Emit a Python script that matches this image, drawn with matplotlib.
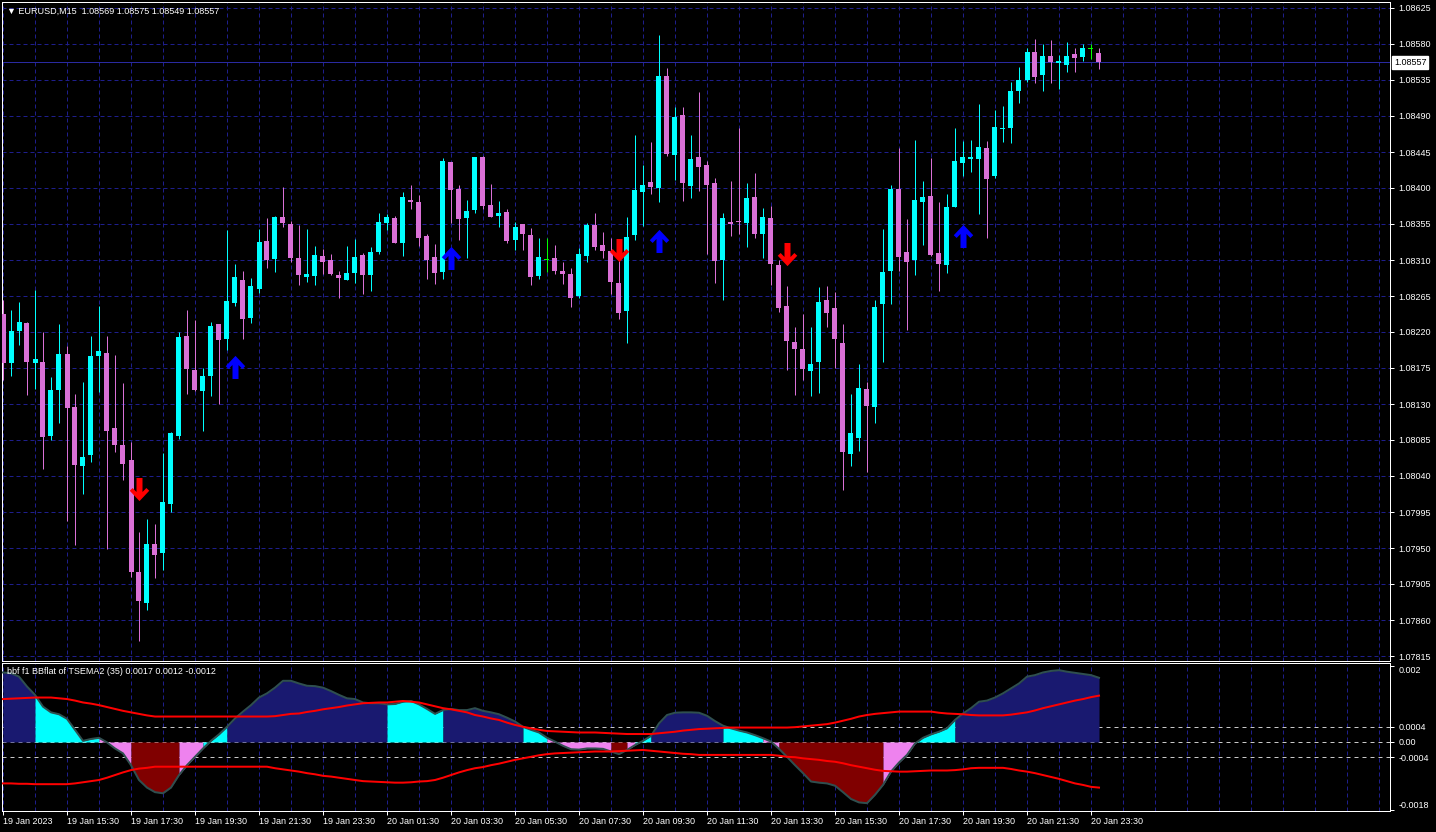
import matplotlib
matplotlib.use("Agg")
import matplotlib.pyplot as plt
import numpy as np
from matplotlib.path import Path
from matplotlib.ticker import MultipleLocator

# EURUSD M15, bars from 19 Jan 2023 13:30 to 20 Jan 2023 23:45
opens = [
    1.08242, 1.08181, 1.08221, 1.08231, 1.08181, 1.08182, 1.08090, 1.08147, 1.08192, 1.08126,
    1.08052, 1.08066, 1.08190, 1.08194, 1.08100, 1.08079, 1.08060, 1.07920, 1.07881, 1.07955,
    1.07944, 1.08005, 1.08090, 1.08215, 1.08172, 1.08146, 1.08165, 1.08230, 1.08211, 1.08256,
    1.08285, 1.08237, 1.08274, 1.08334, 1.08311, 1.08364, 1.08355, 1.08312, 1.08289, 1.08290,
    1.08315, 1.08310, 1.08291, 1.08285, 1.08294, 1.08316, 1.08291, 1.08320, 1.08356, 1.08362,
    1.08331, 1.08385, 1.08382, 1.08340, 1.08314, 1.08295, 1.08432, 1.08399, 1.08362, 1.08372,
    1.08439, 1.08379, 1.08365, 1.08370, 1.08335, 1.08355, 1.08341, 1.08290, 1.08310, 1.08312,
    1.08296, 1.08292, 1.08265, 1.08315, 1.08354, 1.08329, 1.08321, 1.08281, 1.08246, 1.08341,
    1.08395, 1.08407, 1.08400, 1.08540, 1.08441, 1.08491, 1.08402, 1.08439, 1.08429, 1.08406,
    1.08310, 1.08357, 1.08359, 1.08356, 1.08389, 1.08342, 1.08362, 1.08304, 1.08252, 1.08207,
    1.08199, 1.08171, 1.08182, 1.08260, 1.08250, 1.08206, 1.08067, 1.08087, 1.08149, 1.08126,
    1.08255, 1.08296, 1.08399, 1.08320, 1.08310, 1.08382, 1.08390, 1.08319, 1.08304, 1.08376,
    1.08431, 1.08436, 1.08436, 1.08450, 1.08415, 1.08474, 1.08475, 1.08521, 1.08535, 1.08570,
    1.08541, 1.08565, 1.08556, 1.08554, 1.08567, 1.08564, 1.08574, 1.08569,
]
highs = [
    1.08260, 1.08247, 1.08257, 1.08232, 1.08272, 1.08220, 1.08164, 1.08230, 1.08202, 1.08142,
    1.08157, 1.08215, 1.08252, 1.08215, 1.08191, 1.08156, 1.08082, 1.07970, 1.07986, 1.07980,
    1.08069, 1.08095, 1.08220, 1.08247, 1.08235, 1.08175, 1.08232, 1.08230, 1.08347, 1.08305,
    1.08296, 1.08287, 1.08349, 1.08362, 1.08365, 1.08401, 1.08359, 1.08354, 1.08349, 1.08327,
    1.08324, 1.08317, 1.08296, 1.08327, 1.08336, 1.08319, 1.08326, 1.08369, 1.08367, 1.08365,
    1.08395, 1.08404, 1.08391, 1.08342, 1.08330, 1.08437, 1.08432, 1.08404, 1.08385, 1.08439,
    1.08440, 1.08405, 1.08384, 1.08374, 1.08357, 1.08355, 1.08350, 1.08337, 1.08337, 1.08329,
    1.08307, 1.08300, 1.08325, 1.08356, 1.08369, 1.08345, 1.08337, 1.08309, 1.08364, 1.08466,
    1.08429, 1.08457, 1.08591, 1.08550, 1.08501, 1.08501, 1.08466, 1.08520, 1.08434, 1.08412,
    1.08369, 1.08409, 1.08475, 1.08406, 1.08419, 1.08375, 1.08377, 1.08310, 1.08277, 1.08226,
    1.08242, 1.08226, 1.08276, 1.08277, 1.08270, 1.08230, 1.08142, 1.08180, 1.08157, 1.08260,
    1.08349, 1.08404, 1.08450, 1.08361, 1.08460, 1.08409, 1.08437, 1.08382, 1.08392, 1.08475,
    1.08459, 1.08460, 1.08505, 1.08459, 1.08497, 1.08502, 1.08532, 1.08551, 1.08575, 1.08586,
    1.08580, 1.08585, 1.08566, 1.08582, 1.08575, 1.08580, 1.08580, 1.08575,
]
lows = [
    1.08160, 1.08165, 1.08204, 1.08141, 1.08149, 1.08049, 1.08085, 1.08106, 1.07984, 1.07954,
    1.08017, 1.08057, 1.08145, 1.07949, 1.08070, 1.08035, 1.07914, 1.07834, 1.07872, 1.07912,
    1.07922, 1.07995, 1.08086, 1.08142, 1.08146, 1.08096, 1.08140, 1.08130, 1.08197, 1.08252,
    1.08211, 1.08231, 1.08269, 1.08300, 1.08295, 1.08351, 1.08307, 1.08279, 1.08282, 1.08279,
    1.08292, 1.08291, 1.08262, 1.08285, 1.08281, 1.08267, 1.08271, 1.08317, 1.08347, 1.08331,
    1.08315, 1.08374, 1.08327, 1.08286, 1.08280, 1.08286, 1.08356, 1.08335, 1.08312, 1.08369,
    1.08374, 1.08364, 1.08351, 1.08331, 1.08322, 1.08322, 1.08279, 1.08286, 1.08295, 1.08292,
    1.08280, 1.08251, 1.08262, 1.08307, 1.08322, 1.08312, 1.08267, 1.08236, 1.08206, 1.08335,
    1.08352, 1.08392, 1.08382, 1.08440, 1.08410, 1.08384, 1.08387, 1.08396, 1.08317, 1.08281,
    1.08260, 1.08340, 1.08342, 1.08326, 1.08337, 1.08312, 1.08279, 1.08245, 1.08172, 1.08141,
    1.08160, 1.08140, 1.08144, 1.08226, 1.08175, 1.08022, 1.08052, 1.08071, 1.08045, 1.08106,
    1.08182, 1.08255, 1.08296, 1.08222, 1.08291, 1.08329, 1.08315, 1.08271, 1.08294, 1.08376,
    1.08415, 1.08420, 1.08367, 1.08337, 1.08412, 1.08457, 1.08456, 1.08506, 1.08532, 1.08531,
    1.08521, 1.08531, 1.08524, 1.08545, 1.08545, 1.08559, 1.08561, 1.08549,
]
closes = [
    1.08181, 1.08221, 1.08232, 1.08182, 1.08186, 1.08089, 1.08147, 1.08192, 1.08125, 1.08054,
    1.08064, 1.08190, 1.08196, 1.08096, 1.08079, 1.08055, 1.07920, 1.07884, 1.07955, 1.07941,
    1.08007, 1.08094, 1.08214, 1.08174, 1.08147, 1.08165, 1.08227, 1.08210, 1.08259, 1.08289,
    1.08236, 1.08277, 1.08332, 1.08310, 1.08364, 1.08356, 1.08312, 1.08291, 1.08292, 1.08316,
    1.08307, 1.08292, 1.08287, 1.08294, 1.08314, 1.08291, 1.08320, 1.08357, 1.08364, 1.08331,
    1.08389, 1.08382, 1.08337, 1.08310, 1.08294, 1.08434, 1.08397, 1.08361, 1.08371, 1.08439,
    1.08377, 1.08364, 1.08369, 1.08334, 1.08351, 1.08342, 1.08289, 1.08314, 1.08310, 1.08296,
    1.08292, 1.08262, 1.08317, 1.08354, 1.08326, 1.08321, 1.08282, 1.08244, 1.08339, 1.08397,
    1.08404, 1.08401, 1.08540, 1.08442, 1.08489, 1.08406, 1.08436, 1.08426, 1.08404, 1.08309,
    1.08362, 1.08355, 1.08357, 1.08387, 1.08342, 1.08364, 1.08305, 1.08250, 1.08209, 1.08199,
    1.08174, 1.08180, 1.08257, 1.08244, 1.08211, 1.08070, 1.08094, 1.08150, 1.08127, 1.08251,
    1.08295, 1.08399, 1.08314, 1.08307, 1.08385, 1.08389, 1.08316, 1.08305, 1.08376, 1.08434,
    1.08439, 1.08439, 1.08451, 1.08411, 1.08476, 1.08475, 1.08521, 1.08535, 1.08570, 1.08539,
    1.08565, 1.08557, 1.08559, 1.08565, 1.08562, 1.08575, 1.08574, 1.08557,
]

# signal arrows: bar index and price
buy_bars = [29, 56, 82, 120]
buy_prices = [1.08177, 1.08314, 1.08335, 1.08341]
sell_bars = [17, 77, 98]
sell_prices = [1.08022, 1.08321, 1.08316]

# indicator window: BBflat of TSEMA2
bbf_value = [
    0.00183, 0.00181, 0.00172, 0.00146, 0.00124, 0.00093, 0.00078, 0.00073, 0.00061, 0.00032,
    0.00003, 0.00008, 0.00011, -0.00001, -0.00017, -0.00030, -0.00061, -0.00100, -0.00120, -0.00132,
    -0.00135, -0.00120, -0.00087, -0.00061, -0.00039, -0.00017, 0.00003, 0.00020, 0.00040, 0.00062,
    0.00080, 0.00097, 0.00117, 0.00128, 0.00143, 0.00161, 0.00161, 0.00154, 0.00148, 0.00147,
    0.00143, 0.00134, 0.00124, 0.00115, 0.00113, 0.00104, 0.00102, 0.00102, 0.00099, 0.00100,
    0.00106, 0.00108, 0.00099, 0.00087, 0.00074, 0.00084, 0.00087, 0.00084, 0.00084, 0.00089,
    0.00082, 0.00078, 0.00073, 0.00064, 0.00054, 0.00040, 0.00032, 0.00025, 0.00011, 0.00001,
    -0.00010, -0.00019, -0.00020, -0.00017, -0.00017, -0.00018, -0.00025, -0.00032, -0.00021, -0.00008,
    0.00003, 0.00016, 0.00049, 0.00071, 0.00077, 0.00078, 0.00078, 0.00077, 0.00069, 0.00055,
    0.00043, 0.00036, 0.00030, 0.00025, 0.00018, 0.00010, 0.00001, -0.00018, -0.00039, -0.00061,
    -0.00082, -0.00104, -0.00107, -0.00109, -0.00115, -0.00132, -0.00150, -0.00159, -0.00161, -0.00139,
    -0.00113, -0.00078, -0.00054, -0.00034, -0.00004, 0.00011, 0.00020, 0.00027, 0.00036, 0.00058,
    0.00075, 0.00089, 0.00106, 0.00109, 0.00117, 0.00128, 0.00141, 0.00154, 0.00172, 0.00176,
    0.00183, 0.00187, 0.00189, 0.00185, 0.00182, 0.00179, 0.00176, 0.00169,
]
bbf_upper = [
    0.00113, 0.00114, 0.00115, 0.00116, 0.00117, 0.00117, 0.00117, 0.00115, 0.00113, 0.00109,
    0.00104, 0.00101, 0.00097, 0.00092, 0.00087, 0.00082, 0.00078, 0.00074, 0.00070, 0.00067,
    0.00067, 0.00067, 0.00067, 0.00067, 0.00067, 0.00067, 0.00067, 0.00067, 0.00067, 0.00067,
    0.00067, 0.00067, 0.00067, 0.00067, 0.00068, 0.00071, 0.00074, 0.00075, 0.00079, 0.00082,
    0.00086, 0.00089, 0.00092, 0.00096, 0.00099, 0.00102, 0.00103, 0.00104, 0.00104, 0.00106,
    0.00108, 0.00106, 0.00104, 0.00099, 0.00094, 0.00089, 0.00086, 0.00082, 0.00078, 0.00071,
    0.00067, 0.00062, 0.00058, 0.00051, 0.00045, 0.00040, 0.00036, 0.00032, 0.00029, 0.00028,
    0.00027, 0.00026, 0.00025, 0.00025, 0.00025, 0.00024, 0.00023, 0.00022, 0.00021, 0.00021,
    0.00021, 0.00021, 0.00023, 0.00025, 0.00027, 0.00030, 0.00032, 0.00034, 0.00035, 0.00036,
    0.00037, 0.00038, 0.00038, 0.00038, 0.00038, 0.00038, 0.00038, 0.00038, 0.00038, 0.00039,
    0.00041, 0.00043, 0.00045, 0.00047, 0.00051, 0.00056, 0.00061, 0.00067, 0.00071, 0.00074,
    0.00076, 0.00078, 0.00080, 0.00080, 0.00080, 0.00080, 0.00080, 0.00077, 0.00075, 0.00074,
    0.00073, 0.00071, 0.00070, 0.00070, 0.00070, 0.00070, 0.00072, 0.00075, 0.00078, 0.00083,
    0.00089, 0.00094, 0.00099, 0.00104, 0.00109, 0.00113, 0.00118, 0.00122,
]
bbf_lower = [
    -0.00109, -0.00109, -0.00110, -0.00110, -0.00111, -0.00111, -0.00111, -0.00111, -0.00111, -0.00109,
    -0.00106, -0.00103, -0.00100, -0.00094, -0.00087, -0.00080, -0.00074, -0.00070, -0.00068, -0.00065,
    -0.00065, -0.00065, -0.00065, -0.00065, -0.00065, -0.00065, -0.00065, -0.00065, -0.00065, -0.00065,
    -0.00065, -0.00065, -0.00065, -0.00065, -0.00069, -0.00072, -0.00075, -0.00078, -0.00082, -0.00085,
    -0.00089, -0.00091, -0.00094, -0.00097, -0.00100, -0.00103, -0.00104, -0.00105, -0.00106, -0.00107,
    -0.00107, -0.00106, -0.00104, -0.00103, -0.00100, -0.00094, -0.00087, -0.00080, -0.00074, -0.00069,
    -0.00066, -0.00061, -0.00057, -0.00052, -0.00047, -0.00043, -0.00039, -0.00035, -0.00032, -0.00030,
    -0.00029, -0.00028, -0.00027, -0.00026, -0.00025, -0.00025, -0.00025, -0.00024, -0.00023, -0.00022,
    -0.00021, -0.00023, -0.00025, -0.00027, -0.00029, -0.00031, -0.00032, -0.00034, -0.00034, -0.00034,
    -0.00034, -0.00034, -0.00034, -0.00034, -0.00034, -0.00034, -0.00034, -0.00036, -0.00039, -0.00040,
    -0.00043, -0.00045, -0.00047, -0.00050, -0.00052, -0.00056, -0.00061, -0.00065, -0.00069, -0.00073,
    -0.00076, -0.00077, -0.00078, -0.00078, -0.00077, -0.00076, -0.00075, -0.00075, -0.00075, -0.00074,
    -0.00072, -0.00069, -0.00068, -0.00068, -0.00068, -0.00068, -0.00071, -0.00075, -0.00078, -0.00082,
    -0.00087, -0.00092, -0.00097, -0.00103, -0.00109, -0.00113, -0.00118, -0.00120,
]
# histogram state per bar: N strong up, C weak up, P weak down, R strong down
bbf_state = ("N" * 5 + "C" * 8 + "P" * 4 + "R" * 6 + "P" * 3 + "C" * 3 + "N" * 20
             + "C" * 7 + "N" * 10 + "C" * 3 + "P" * 8 + "R" * 2 + "P" * 1 + "C" * 2
             + "N" * 9 + "C" * 5 + "P" * 2 + "R" * 13 + "P" * 4 + "C" * 5 + "N" * 18)

price_ticks = [1.07815, 1.07860, 1.07905, 1.07950, 1.07995, 1.08040, 1.08085, 1.08130,
               1.08175, 1.08220, 1.08265, 1.08310, 1.08355, 1.08400, 1.08445, 1.08490,
               1.08535, 1.08580, 1.08625]
bbf_ticks = [0.002, 0.0004, 0.0, -0.0004, -0.0018]
bbf_tick_labels = ["0.002", "0.0004", "0.00", "-0.0004", "-0.0018"]
time_tick_bars = [0, 8, 16, 24, 32, 40, 48, 56, 64, 72, 80, 88, 96, 104, 112, 120, 128, 136]
time_tick_labels = ["19 Jan 2023", "19 Jan 15:30", "19 Jan 17:30", "19 Jan 19:30",
                    "19 Jan 21:30", "19 Jan 23:30", "20 Jan 01:30", "20 Jan 03:30",
                    "20 Jan 05:30", "20 Jan 07:30", "20 Jan 09:30", "20 Jan 11:30",
                    "20 Jan 13:30", "20 Jan 15:30", "20 Jan 17:30", "20 Jan 19:30",
                    "20 Jan 21:30", "20 Jan 23:30"]

BULL = "#00ffff"
BEAR = "#da70d6"
DOJI = "#00ff00"
GRID = "#1e1e8c"
STATE_COLORS = {"N": "#191970", "C": "#00ffff", "P": "#ee82ee", "R": "#800000"}
PX = 0.72  # one pixel in points at 100 dpi

plt.rcParams["font.family"] = ["Liberation Sans", "DejaVu Sans"]
plt.rcParams["font.size"] = 6.5

W, H = 1436, 832
fig = plt.figure(figsize=(W / 100, H / 100), dpi=100, facecolor="black")
ax = fig.add_axes([2 / W, 1 - 661 / H, 1388 / W, 659 / H], facecolor="black")
ind = fig.add_axes([2 / W, 1 - 811 / H, 1388 / W, 148 / H], facecolor="black", sharex=ax)

x = np.arange(len(opens))
o = np.array(opens)
h = np.array(highs)
l = np.array(lows)
c = np.array(closes)
colors = [DOJI if cc == oo else (BULL if cc > oo else BEAR) for oo, cc in zip(o, c)]

# candles
ax.vlines(x, l, h, colors=colors, lw=PX, zorder=3)
body_lo = np.minimum(o, c)
body_h = np.maximum(np.abs(c - o), 0.0000125)
ax.bar(x, body_h, bottom=body_lo, width=0.625, color=colors, lw=0, zorder=3)

# arrows
down_verts = [(-0.24, 1.0), (0.24, 1.0), (0.24, -0.12), (0.55, 0.2), (0.78, -0.02), (0.0, -0.85),
              (-0.78, -0.02), (-0.55, 0.2), (-0.24, -0.12), (-0.24, 1.0)]
down_arrow = Path(down_verts, closed=True)
up_arrow = Path([(vx, -vy) for vx, vy in down_verts], closed=True)
ax.plot(sell_bars, sell_prices, ls="none", marker=down_arrow, ms=18, mfc="#ff0000", mec="#ff0000", mew=0, zorder=5)
ax.plot(buy_bars, buy_prices, ls="none", marker=up_arrow, ms=18, mfc="#0000ff", mec="#0000ff", mew=0, zorder=5)

# current price line + label
ax.axhline(c[-1], color="#2a2aa0", lw=PX, zorder=2)
ax.annotate(f"{c[-1]:.5f}", xy=(1, c[-1]), xycoords=ax.get_yaxis_transform(),
            xytext=(4, 0), textcoords="offset pixels", ha="left", va="center", color="black",
            bbox=dict(boxstyle="square,pad=0.2", fc="white", ec="white"), annotation_clip=False, zorder=6)

ax.annotate(f"\u25bc EURUSD,M15  {o[-1]:.5f} {h[-1]:.5f} {l[-1]:.5f} {c[-1]:.5f}",
            xy=(0, 1), xycoords="axes fraction", xytext=(5, -9), textcoords="offset pixels",
            ha="left", va="center", color="white", zorder=6)

ax.set_xlim(-0.125, 173.375)
ax.set_ylim(1.0780875, 1.086325)
ax.set_yticks(price_ticks)
ax.set_yticklabels([f"{p:.5f}" for p in price_ticks])

# indicator window
v = np.array(bbf_value)
run_start = 1
for i in range(2, len(v) + 1):
    if i == len(v) or bbf_state[i] != bbf_state[run_start]:
        seg = slice(run_start - 1, i)
        ind.fill_between(x[seg], 0, v[seg], color=STATE_COLORS[bbf_state[run_start]], lw=0, zorder=2)
        run_start = i
for lvl in (0.0004, 0.0, -0.0004):
    ind.axhline(lvl, color="#c8c8c8", lw=PX, ls=(0, (4, 4)), zorder=1)
ind.plot(x, v, color="#2f4f4f", lw=2 * PX, zorder=4)
ind.plot(x, bbf_upper, color="#ff0000", lw=2 * PX, zorder=5)
ind.plot(x, bbf_lower, color="#ff0000", lw=2 * PX, zorder=5)
ind.annotate(f"bbf f1 BBflat of TSEMA2 (35) {v[-1]:.4f} {bbf_upper[-1]:.4f} {bbf_lower[-1]:.4f}",
             xy=(0, 1), xycoords="axes fraction", xytext=(5, -9), textcoords="offset pixels",
             ha="left", va="center", color="white", zorder=6)
ind.set_ylim(-0.001816, 0.002079)
ind.set_yticks(bbf_ticks)
ind.set_yticklabels(bbf_tick_labels)

ind.set_xticks(time_tick_bars)
ind.set_xticklabels(time_tick_labels, ha="left")
ind.xaxis.set_minor_locator(MultipleLocator(4))

for a in (ax, ind):
    a.set_axisbelow(True)
    a.yaxis.tick_right()
    a.tick_params(axis="y", colors="white", length=3, width=PX, pad=3, labelsize=6.5)
    for s in a.spines.values():
        s.set_color("white")
        s.set_linewidth(PX)
    a.grid(True, axis="x", which="both", color=GRID, lw=PX, ls=(0, (4, 3)))
ax.grid(True, axis="y", color=GRID, lw=PX, ls=(0, (4, 3)))
ax.tick_params(axis="x", which="both", length=0, labelbottom=False)
ind.tick_params(axis="x", which="major", colors="white", length=3, width=PX, pad=1.5, labelsize=6.5)
ind.tick_params(axis="x", which="minor", length=0)

# keep the edge labels of the indicator scale inside the window, as the terminal does
ind_labels = ind.get_yticklabels()
ind_labels[0].set_va("top")
ind_labels[-1].set_va("bottom")

fig.savefig("out.png", dpi=100, facecolor="black")
